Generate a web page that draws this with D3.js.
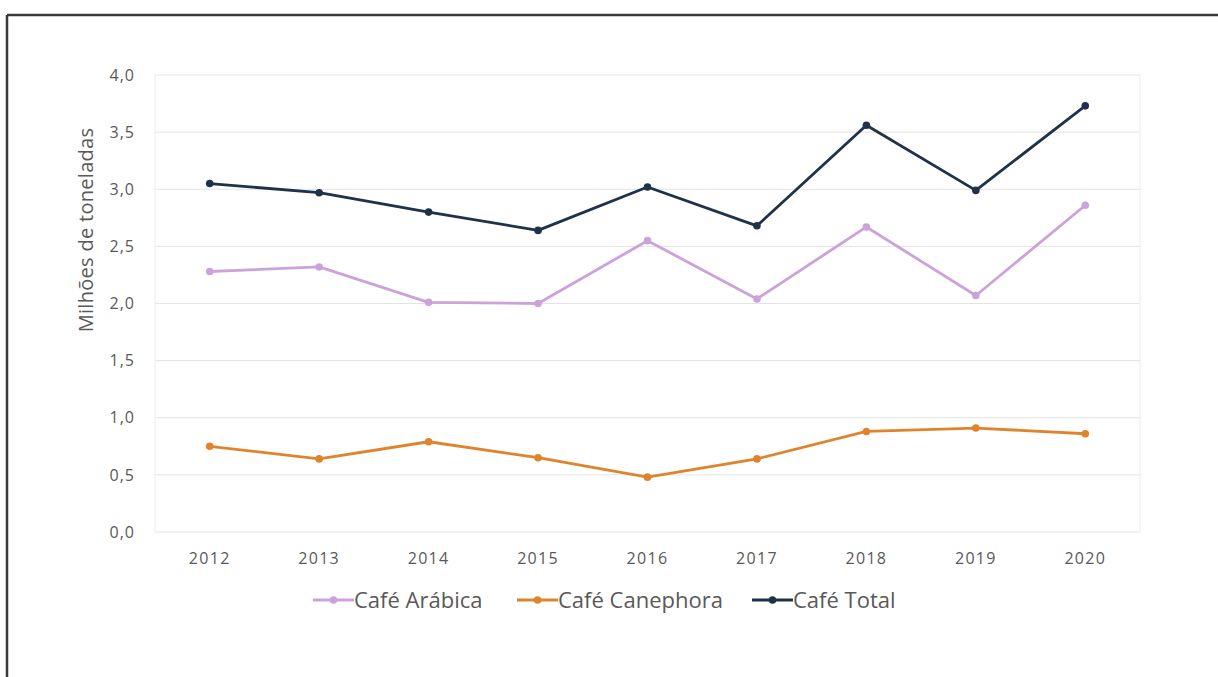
<!DOCTYPE html>
<html><head><meta charset="utf-8">
<script src="https://cdn.jsdelivr.net/npm/d3@7"></script>
<style>
body{margin:0;background:#fff;}
svg{display:block;font-family:"Open Sans","Liberation Sans",sans-serif;}
</style></head>
<body>
<svg id="chart" width="1218" height="677"></svg>
<script>
const years = ["2012","2013","2014","2015","2016","2017","2018","2019","2020"];
const arabica = [2.28,2.32,2.01,2.00,2.55,2.04,2.67,2.07,2.86];
const canephora = [0.75,0.64,0.79,0.65,0.48,0.64,0.88,0.91,0.86];
const total = [3.05,2.97,2.80,2.64,3.02,2.68,3.56,2.99,3.73];
const seriesNames = ["Café Arábica","Café Canephora","Café Total"];
const seriesColors = ["#cba3da","#e0842c","#1e3249"];
const yTicks = [0,0.5,1,1.5,2,2.5,3,3.5,4];

const series = [arabica, canephora, total].map((v,i)=>({name:seriesNames[i], color:seriesColors[i], values:v}));

const svg = d3.select("#chart");
svg.append("line").attr("x1",7).attr("x2",1218).attr("y1",15).attr("y2",15).attr("stroke","#3a3a3a").attr("stroke-width",2.5);
svg.append("line").attr("x1",7).attr("x2",7).attr("y1",15).attr("y2",677).attr("stroke","#3a3a3a").attr("stroke-width",2.5);

const L=155, R=1140, T=75, B=532;
const x = d3.scaleBand().domain(years).range([L,R]);
const y = d3.scaleLinear().domain([0,4]).range([B,T]);

svg.append("g").selectAll("line").data(yTicks).join("line")
  .attr("x1",L).attr("x2",R).attr("y1",d=>y(d)).attr("y2",d=>y(d))
  .attr("stroke","#e3e3e3").attr("stroke-width",1);
svg.append("line").attr("x1",L).attr("x2",L).attr("y1",T).attr("y2",B).attr("stroke","#ececec");
svg.append("line").attr("x1",R).attr("x2",R).attr("y1",T).attr("y2",B).attr("stroke","#ececec");

const fmt = d => d3.format(".1f")(d).replace(".",",");
const yAxis = d3.axisLeft(y).tickValues(yTicks).tickFormat(fmt).tickSize(0).tickPadding(0);
const gy = svg.append("g").attr("transform",`translate(${L-20},0)`).call(yAxis);
gy.select(".domain").remove();
gy.selectAll("text").attr("fill","#595959").style("font-size","16px").style("letter-spacing","1px")
  .style("font-family","'Open Sans','Liberation Sans',sans-serif");

const xAxis = d3.axisBottom(x).tickSize(0).tickPadding(0);
const gx = svg.append("g").attr("transform",`translate(0,${B+21})`).call(xAxis);
gx.select(".domain").remove();
gx.selectAll("text").attr("fill","#595959").style("font-size","16px").style("letter-spacing","1.3px")
  .style("font-family","'Open Sans','Liberation Sans',sans-serif");

svg.append("text").attr("transform","translate(93,230) rotate(-90)")
  .attr("text-anchor","middle").attr("fill","#595959").style("font-size","20px").style("letter-spacing","0.3px")
  .text("Milhões de toneladas");

const line = d3.line().x((d,i)=>x(years[i])+x.bandwidth()/2).y(d=>y(d));
series.forEach(s=>{
  svg.append("path").datum(s.values).attr("d",line).attr("fill","none")
    .attr("stroke",s.color).attr("stroke-width",2.8).attr("stroke-linejoin","round");
  svg.append("g").selectAll("circle").data(s.values).join("circle")
    .attr("cx",(d,i)=>x(years[i])+x.bandwidth()/2).attr("cy",d=>y(d)).attr("r",3.8).attr("fill",s.color);
});

const legX = [313, 517, 752];
const lg = svg.append("g");
series.forEach((s,i)=>{
  const g = lg.append("g").attr("transform",`translate(${legX[i]},600)`);
  g.append("line").attr("x1",0).attr("x2",41).attr("y1",0).attr("y2",0).attr("stroke",s.color).attr("stroke-width",2.8);
  g.append("circle").attr("cx",20.5).attr("cy",0).attr("r",3.8).attr("fill",s.color);
  g.append("text").attr("x",41).attr("y",8).attr("fill","#595959").style("font-size","22px").text(s.name);
});
</script>
</body></html>
